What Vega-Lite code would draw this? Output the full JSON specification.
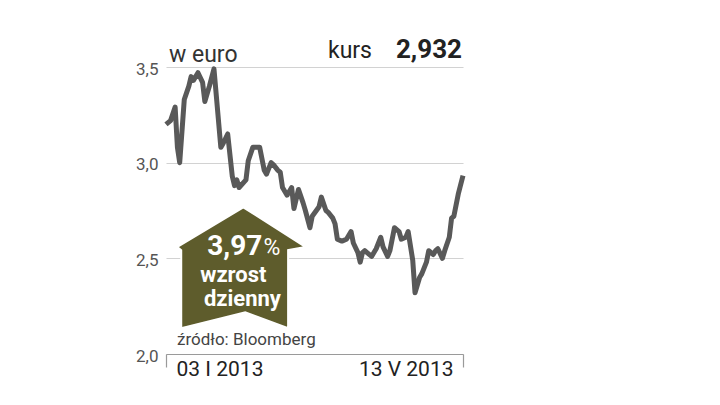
{
  "$schema": "https://vega.github.io/schema/vega-lite/v6.json",
  "width": 297,
  "height": 287,
  "autosize": {"type": "none"},
  "padding": {"left": 166, "top": 67, "right": 257, "bottom": 51},
  "background": "white",
  "config": {"view": {"stroke": null}, "font": "Roboto"},
  "data": {"values": [
    {"date": "2013-01-03", "kurs": 3.20},
    {"date": "2013-01-05", "kurs": 3.22},
    {"date": "2013-01-07", "kurs": 3.29},
    {"date": "2013-01-08", "kurs": 3.08},
    {"date": "2013-01-09", "kurs": 3.00},
    {"date": "2013-01-11", "kurs": 3.33},
    {"date": "2013-01-13", "kurs": 3.40},
    {"date": "2013-01-14", "kurs": 3.45},
    {"date": "2013-01-15", "kurs": 3.43},
    {"date": "2013-01-17", "kurs": 3.47},
    {"date": "2013-01-19", "kurs": 3.42},
    {"date": "2013-01-20", "kurs": 3.32},
    {"date": "2013-01-22", "kurs": 3.40},
    {"date": "2013-01-24", "kurs": 3.49},
    {"date": "2013-01-27", "kurs": 3.08},
    {"date": "2013-01-28", "kurs": 3.10},
    {"date": "2013-01-30", "kurs": 3.15},
    {"date": "2013-02-01", "kurs": 2.93},
    {"date": "2013-02-02", "kurs": 2.88},
    {"date": "2013-02-03", "kurs": 2.91},
    {"date": "2013-02-04", "kurs": 2.87},
    {"date": "2013-02-07", "kurs": 2.91},
    {"date": "2013-02-08", "kurs": 3.01},
    {"date": "2013-02-10", "kurs": 3.08},
    {"date": "2013-02-13", "kurs": 3.08},
    {"date": "2013-02-15", "kurs": 2.96},
    {"date": "2013-02-16", "kurs": 2.94},
    {"date": "2013-02-18", "kurs": 3.00},
    {"date": "2013-02-19", "kurs": 2.99},
    {"date": "2013-02-21", "kurs": 2.96},
    {"date": "2013-02-22", "kurs": 2.95},
    {"date": "2013-02-23", "kurs": 2.87},
    {"date": "2013-02-25", "kurs": 2.83},
    {"date": "2013-02-27", "kurs": 2.87},
    {"date": "2013-02-28", "kurs": 2.76},
    {"date": "2013-03-02", "kurs": 2.86},
    {"date": "2013-03-04", "kurs": 2.79},
    {"date": "2013-03-05", "kurs": 2.75},
    {"date": "2013-03-07", "kurs": 2.66},
    {"date": "2013-03-08", "kurs": 2.72},
    {"date": "2013-03-11", "kurs": 2.77},
    {"date": "2013-03-12", "kurs": 2.82},
    {"date": "2013-03-14", "kurs": 2.75},
    {"date": "2013-03-15", "kurs": 2.74},
    {"date": "2013-03-17", "kurs": 2.71},
    {"date": "2013-03-18", "kurs": 2.68},
    {"date": "2013-03-19", "kurs": 2.60},
    {"date": "2013-03-21", "kurs": 2.59},
    {"date": "2013-03-23", "kurs": 2.60},
    {"date": "2013-03-25", "kurs": 2.64},
    {"date": "2013-03-26", "kurs": 2.58},
    {"date": "2013-03-28", "kurs": 2.53},
    {"date": "2013-03-29", "kurs": 2.48},
    {"date": "2013-03-30", "kurs": 2.53},
    {"date": "2013-03-31", "kurs": 2.54},
    {"date": "2013-04-01", "kurs": 2.53},
    {"date": "2013-04-03", "kurs": 2.51},
    {"date": "2013-04-05", "kurs": 2.55},
    {"date": "2013-04-07", "kurs": 2.61},
    {"date": "2013-04-08", "kurs": 2.56},
    {"date": "2013-04-10", "kurs": 2.51},
    {"date": "2013-04-11", "kurs": 2.54},
    {"date": "2013-04-13", "kurs": 2.66},
    {"date": "2013-04-15", "kurs": 2.64},
    {"date": "2013-04-16", "kurs": 2.60},
    {"date": "2013-04-18", "kurs": 2.61},
    {"date": "2013-04-19", "kurs": 2.64},
    {"date": "2013-04-21", "kurs": 2.49},
    {"date": "2013-04-22", "kurs": 2.32},
    {"date": "2013-04-24", "kurs": 2.40},
    {"date": "2013-04-25", "kurs": 2.42},
    {"date": "2013-04-27", "kurs": 2.48},
    {"date": "2013-04-28", "kurs": 2.54},
    {"date": "2013-04-30", "kurs": 2.52},
    {"date": "2013-05-01", "kurs": 2.54},
    {"date": "2013-05-02", "kurs": 2.55},
    {"date": "2013-05-04", "kurs": 2.50},
    {"date": "2013-05-05", "kurs": 2.54},
    {"date": "2013-05-07", "kurs": 2.61},
    {"date": "2013-05-08", "kurs": 2.71},
    {"date": "2013-05-09", "kurs": 2.72},
    {"date": "2013-05-11", "kurs": 2.84},
    {"date": "2013-05-13", "kurs": 2.932}
  ]},
  "layer": [
    {
      "mark": {"type": "line", "color": "#595959", "strokeWidth": 5, "strokeJoin": "round"},
      "encoding": {
        "x": {
          "field": "date", "type": "temporal",
          "scale": {"type": "utc", "domain": [{"year": 2013, "month": 1, "date": 3, "utc": true}, {"year": 2013, "month": 5, "date": 13, "utc": true}], "nice": false},
          "axis": {
            "title": null,
            "values": [{"year": 2013, "month": 1, "date": 3, "utc": true}, {"year": 2013, "month": 5, "date": 13, "utc": true}],
            "labelExpr": "utcFormat(datum.value, '%d') + ' ' + ['I','II','III','IV','V','VI','VII','VIII','IX','X','XI','XII'][utcmonth(datum.value)] + ' ' + utcFormat(datum.value, '%Y')",
            "grid": false,
            "domain": true, "domainColor": "#9a9a9a", "domainWidth": 1.2,
            "ticks": true, "tickColor": "#9a9a9a", "tickSize": 13, "tickWidth": 1.2,
            "labelFlush": true, "labelFlushOffset": -10,
            "labelFontSize": 21, "labelColor": "#222222", "labelPadding": -9, "labelBaseline": "top"
          }
        },
        "y": {
          "field": "kurs", "type": "quantitative",
          "scale": {"domain": [2, 3.5], "nice": false, "zero": false},
          "axis": {
            "title": null,
            "values": [2, 2.5, 3, 3.5],
            "labelExpr": "replace(format(datum.value, '.1f'), '.', ',')",
            "grid": true, "gridColor": "#d2d2d2", "gridWidth": 1.2,
            "domain": false, "ticks": false,
            "labelFontSize": 17, "labelColor": "#555555", "labelPadding": 8,
            "labelBaseline": "middle", "labelOffset": 2
          }
        }
      }
    },
    {
      "data": {"values": [{"label": "w euro"}]},
      "mark": {"type": "text", "align": "left", "baseline": "alphabetic", "dx": 3, "dy": -5, "fontSize": 23, "color": "#333333"},
      "encoding": {
        "x": {"datum": {"year": 2013, "month": 1, "date": 3, "utc": true}, "type": "temporal"},
        "y": {"datum": 3.5, "type": "quantitative"},
        "text": {"field": "label"}
      }
    },
    {
      "data": {"values": [{"label": "kurs"}]},
      "mark": {"type": "text", "align": "right", "baseline": "alphabetic", "dx": -91, "dy": -9, "fontSize": 23, "color": "#222222"},
      "encoding": {
        "x": {"datum": {"year": 2013, "month": 5, "date": 13, "utc": true}, "type": "temporal"},
        "y": {"datum": 3.5, "type": "quantitative"},
        "text": {"field": "label"}
      }
    },
    {
      "data": {"values": [{"label": "2,932"}]},
      "mark": {"type": "text", "align": "right", "baseline": "alphabetic", "dx": -1, "dy": -9, "fontSize": 26, "fontWeight": "bold", "color": "#222222"},
      "encoding": {
        "x": {"datum": {"year": 2013, "month": 5, "date": 13, "utc": true}, "type": "temporal"},
        "y": {"datum": 3.5, "type": "quantitative"},
        "text": {"field": "label"}
      }
    },
    {
      "data": {"values": [{"label": "badge"}]},
      "mark": {"type": "point", "shape": "M0.03,-0.95 L1,-0.33 L0.73,-0.28 L0.73,0.94 L0.06,0.69 L-0.94,0.94 L-0.94,-0.28 L-1,-0.33 Z", "size": 16384, "filled": true, "fill": "#5e5c2c", "fillOpacity": 1, "stroke": "#ffffff", "strokeWidth": 2, "opacity": 1},
      "encoding": {
        "x": {"datum": {"year": 2013, "month": 2, "date": 5, "utc": true}, "type": "temporal"},
        "y": {"datum": 2.449, "type": "quantitative"}
      }
    },
    {
      "data": {"values": [{"label": "3,97"}]},
      "mark": {"type": "text", "align": "right", "baseline": "alphabetic", "dx": 21, "dy": -13, "fontSize": 28, "fontWeight": "bold", "color": "#ffffff"},
      "encoding": {
        "x": {"datum": {"year": 2013, "month": 2, "date": 5, "utc": true}, "type": "temporal"},
        "y": {"datum": 2.449, "type": "quantitative"},
        "text": {"field": "label"}
      }
    },
    {
      "data": {"values": [{"label": "%"}]},
      "mark": {"type": "text", "align": "left", "baseline": "alphabetic", "dx": 22, "dy": -13, "fontSize": 23, "color": "#ffffff"},
      "encoding": {
        "x": {"datum": {"year": 2013, "month": 2, "date": 5, "utc": true}, "type": "temporal"},
        "y": {"datum": 2.449, "type": "quantitative"},
        "text": {"field": "label"}
      }
    },
    {
      "data": {"values": [{"label": "wzrost"}]},
      "mark": {"type": "text", "align": "center", "baseline": "alphabetic", "dx": -8, "dy": 14, "fontSize": 22, "fontWeight": "bold", "color": "#ffffff"},
      "encoding": {
        "x": {"datum": {"year": 2013, "month": 2, "date": 5, "utc": true}, "type": "temporal"},
        "y": {"datum": 2.449, "type": "quantitative"},
        "text": {"field": "label"}
      }
    },
    {
      "data": {"values": [{"label": "dzienny"}]},
      "mark": {"type": "text", "align": "center", "baseline": "alphabetic", "dx": 1, "dy": 38, "fontSize": 22, "fontWeight": "bold", "color": "#ffffff"},
      "encoding": {
        "x": {"datum": {"year": 2013, "month": 2, "date": 5, "utc": true}, "type": "temporal"},
        "y": {"datum": 2.449, "type": "quantitative"},
        "text": {"field": "label"}
      }
    },
    {
      "data": {"values": [{"label": "źródło: Bloomberg"}]},
      "mark": {"type": "text", "align": "left", "baseline": "alphabetic", "dx": 11, "dy": -9, "fontSize": 17, "color": "#444444"},
      "encoding": {
        "x": {"datum": {"year": 2013, "month": 1, "date": 3, "utc": true}, "type": "temporal"},
        "y": {"datum": 2.0, "type": "quantitative"},
        "text": {"field": "label"}
      }
    }
  ]
}
